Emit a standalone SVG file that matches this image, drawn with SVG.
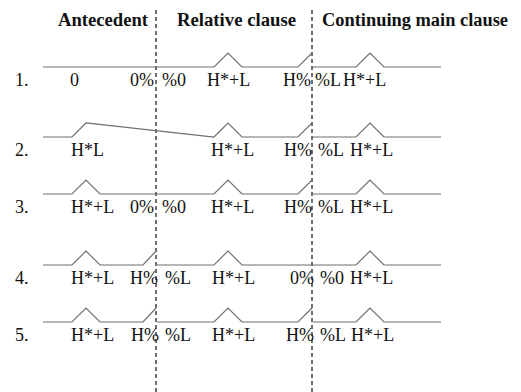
<svg xmlns="http://www.w3.org/2000/svg" width="521" height="392" viewBox="0 0 521 392">
<style>
text{font-family:'Liberation Serif','Times New Roman',serif;font-size:18px;fill:#111}
.h{font-weight:bold}
.c{fill:none;stroke:#6e6e6e;stroke-width:1.2;stroke-linejoin:miter}
.d{stroke:#333;stroke-width:1.4;stroke-dasharray:4 3}
</style>
<rect width="521" height="392" fill="#fff"/>
<g id="headers">
<text class="h" x="58" y="26" textLength="90" lengthAdjust="spacingAndGlyphs">Antecedent</text>
<text class="h" x="177" y="26" textLength="119" lengthAdjust="spacingAndGlyphs">Relative clause</text>
<text class="h" x="322" y="26" textLength="186" lengthAdjust="spacingAndGlyphs">Continuing main clause</text>
</g>
<g id="boundaries">
<line class="d" x1="156" y1="10" x2="156" y2="392"/>
<line class="d" x1="312" y1="10" x2="312" y2="392"/>
</g>
<g id="row1">
<path class="c" d="M43,67 H214 L228,53 L242,67 H298 L312,53"/>
<path class="c" d="M313,67 H356 L370,53 L384,67 H441"/>
<text x="15" y="86">1.</text>
<text x="70" y="86">0</text>
<text x="130" y="86">0%</text>
<text x="162" y="86">%0</text>
<text x="207" y="86">H*+L</text>
<text x="283" y="86">H%</text>
<text x="315" y="86">%L</text>
<text x="343" y="86">H*+L</text>
</g>
<g id="row2">
<path class="c" d="M43,137 H72 L86,123 L214,137 L228,123 L242,137 H298 L312,123"/>
<path class="c" d="M313,137 H356 L370,123 L384,137 H441"/>
<text x="15" y="156">2.</text>
<text x="71" y="156">H*L</text>
<text x="211" y="156">H*+L</text>
<text x="284" y="156">H%</text>
<text x="318" y="156">%L</text>
<text x="350" y="156">H*+L</text>
</g>
<g id="row3">
<path class="c" d="M43,194 H72 L86,180 L100,194 H214 L228,180 L242,194 H298 L312,180"/>
<path class="c" d="M313,194 H356 L370,180 L384,194 H441"/>
<text x="15" y="213">3.</text>
<text x="71" y="213">H*+L</text>
<text x="130" y="213">0%</text>
<text x="162" y="213">%0</text>
<text x="211" y="213">H*+L</text>
<text x="284" y="213">H%</text>
<text x="318" y="213">%L</text>
<text x="350" y="213">H*+L</text>
</g>
<g id="row4">
<path class="c" d="M43,265 H72 L86,251 L100,265 H143 L156,251"/>
<path class="c" d="M157,265 H214 L228,251 L242,265 H356 L370,251 L384,265 H441"/>
<text x="15" y="284">4.</text>
<text x="71" y="284">H*+L</text>
<text x="130" y="284">H%</text>
<text x="165" y="284">%L</text>
<text x="212" y="284">H*+L</text>
<text x="290" y="284">0%</text>
<text x="320" y="284">%0</text>
<text x="350" y="284">H*+L</text>
</g>
<g id="row5">
<path class="c" d="M43,322 H72 L86,308 L100,322 H143 L156,308"/>
<path class="c" d="M157,322 H214 L228,308 L242,322 H298 L312,308"/>
<path class="c" d="M313,322 H356 L370,308 L384,322 H441"/>
<text x="15" y="341">5.</text>
<text x="71" y="341">H*+L</text>
<text x="131" y="341">H%</text>
<text x="165" y="341">%L</text>
<text x="212" y="341">H*+L</text>
<text x="286" y="341">H%</text>
<text x="320" y="341">%L</text>
<text x="351" y="341">H*+L</text>
</g>
</svg>
